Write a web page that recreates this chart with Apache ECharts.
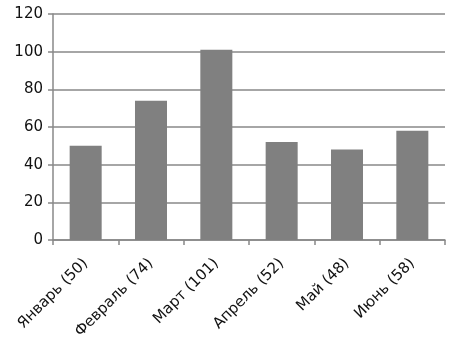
<!DOCTYPE html>
<html><head><meta charset="utf-8">
<script src="https://cdn.jsdelivr.net/npm/echarts@6/dist/echarts.min.js"></script>
<style>html,body{margin:0;padding:0;background:#fff}#c{width:459px;height:346px}</style>
</head><body><div id="c"></div>
<script>
const categories = ["Январь (50)", "Февраль (74)", "Март (101)", "Апрель (52)", "Май (48)", "Июнь (58)"];
const values = [50, 74, 101, 52, 48, 58];
const yTicks = [0, 20, 40, 60, 80, 100, 120];

const chart = echarts.init(document.getElementById('c'), null, {renderer: 'canvas'});
chart.setOption({
  animation: false,
  backgroundColor: '#fff',
  textStyle: {fontFamily: 'DejaVu Sans'},
  grid: {left: 53, right: 14, top: 14, bottom: 106, containLabel: false},
  xAxis: {
    type: 'category',
    data: categories,
    boundaryGap: true,
    axisLine: {show: true, lineStyle: {color: '#888', width: 1.5}},
    axisTick: {show: true, length: 5, alignWithLabel: false, lineStyle: {color: '#888', width: 1.5}},
    axisLabel: {rotate: 45, fontSize: 15, color: '#111', margin: 21, interval: 0, fontFamily: 'DejaVu Sans'},
    splitLine: {show: false}
  },
  yAxis: {
    type: 'value',
    min: yTicks[0],
    max: yTicks[yTicks.length - 1],
    interval: 20,
    axisLine: {show: true, lineStyle: {color: '#888', width: 1.5}},
    axisTick: {show: true, length: 5, lineStyle: {color: '#888', width: 1.5}},
    axisLabel: {fontSize: 15, color: '#111', margin: 10, fontFamily: 'DejaVu Sans'},
    splitLine: {show: true, lineStyle: {color: '#888', width: 1.5}}
  },
  series: [{
    type: 'bar',
    data: values,
    barWidth: '49%',
    itemStyle: {color: '#808080'}
  }]
});
</script></body></html>
